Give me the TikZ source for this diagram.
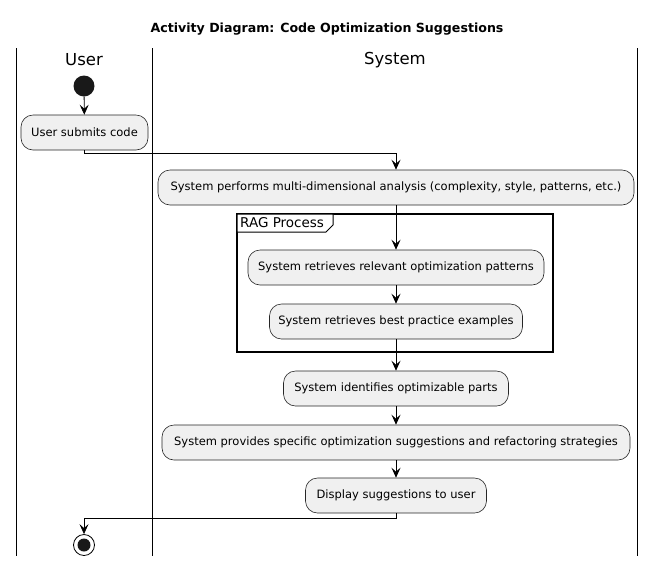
\documentclass[tikz,border=0pt]{standalone}
\usepackage{fontspec}
\setmainfont{DejaVu Sans}
\usetikzlibrary{arrows.meta}
\begin{document}
\begin{tikzpicture}[x=1pt,y=-1pt,
  act/.style={draw=black!85, fill=black!6, rounded corners=12pt, line width=0.6pt,
    inner sep=0pt, minimum height=35pt, font=\fontsize{11.5}{13}\selectfont},
  arr/.style={-{Stealth[length=10pt,width=9pt,inset=4pt]}, line width=0.8pt},
  lane/.style={line width=1pt},
  hdr/.style={font=\fontsize{16.5}{19}\selectfont}]
\useasboundingbox (0,0) rectangle (656,566);
\node[font=\bfseries\fontsize{12.6}{15}\selectfont] (title) at (327,29) {Activity Diagram: Code Optimization Suggestions};
\draw[lane] (16,48) -- (16,556);
\draw[lane] (152,48) -- (152,556);
\draw[lane] (637,48) -- (637,556);
\node[hdr] (huser) at (84,60) {User};
\node[hdr] (hsys) at (395,60) {System};
\node[circle, fill=black!90, minimum size=21pt, inner sep=0pt] (start) at (84,86) {};
\node[act, minimum width=127pt] (submit) at (84.5,132.5) {User submits code};
\node[act, minimum width=476pt] (analysis) at (396,187.5) {System performs multi-dimensional analysis (complexity, style, patterns, etc.)};
% frame
\draw[line width=1.5pt] (237,214) rectangle (553,352);
\draw[line width=1pt, fill=white] (237,214) -- (333,214) -- (333,225) -- (326,232) -- (237,232) -- cycle;
\node[anchor=west, font=\fontsize{13.5}{15}\selectfont, inner sep=0pt] (rag) at (240,223) {RAG Process};
\node[act, minimum width=296pt] (patterns) at (396,267.5) {System retrieves relevant optimization patterns};
\node[act, minimum width=253pt] (best) at (396,321.5) {System retrieves best practice examples};
\node[act, minimum width=225pt] (ident) at (396,388.5) {System identifies optimizable parts};
\node[act, minimum width=468pt] (prov) at (396,442.5) {System provides specific optimization suggestions and refactoring strategies};
\node[act, minimum width=181pt] (disp) at (396,495.5) {Display suggestions to user};
\node[circle, draw=black, line width=0.8pt, fill=white, minimum size=21pt, inner sep=0pt] (stop) at (84,545) {};
\node[circle, fill=black!90, minimum size=13pt, inner sep=0pt] (stopin) at (84,545) {};
\draw[arr] (start) -- (submit);
\draw[arr] (submit.south) -- ++(0,3) -| (analysis.north);
\draw[arr] (analysis) -- (patterns);
\draw[arr] (patterns) -- (best);
\draw[arr] (best) -- (ident);
\draw[arr] (ident) -- (prov);
\draw[arr] (prov) -- (disp);
\draw[arr] (disp.south) -- ++(0,5) -| (stop.north);
\end{tikzpicture}
\end{document}
